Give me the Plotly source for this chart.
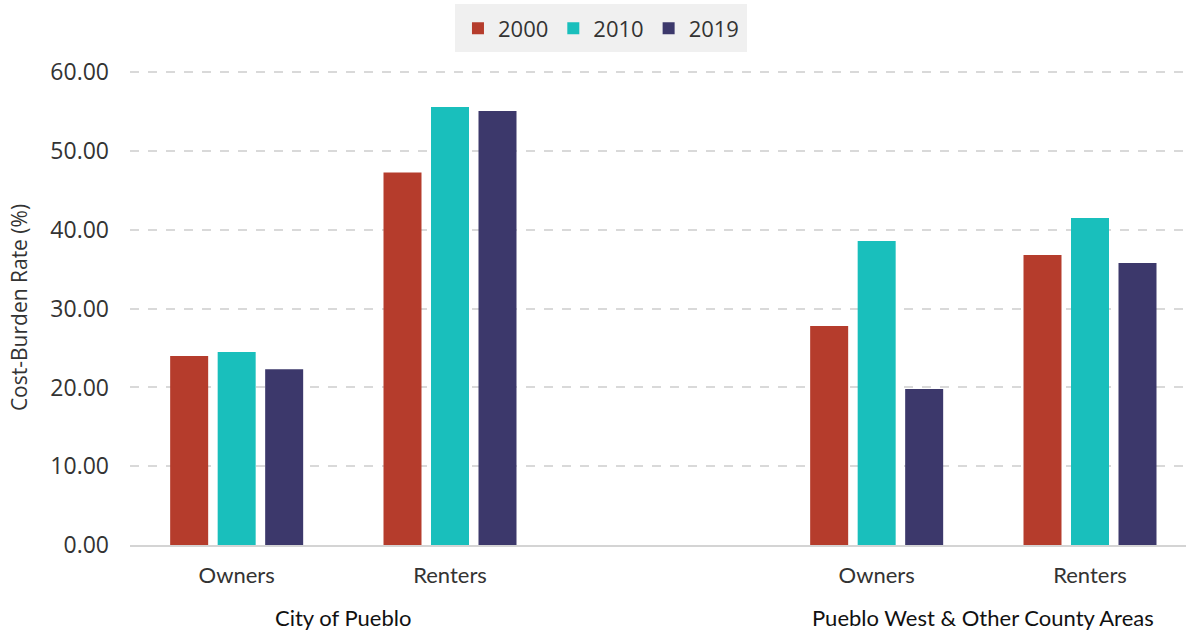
import plotly.graph_objects as go

categories = ["Owners", "Renters", "Owners", "Renters"]
groups = ["City of Pueblo", "Pueblo West & Other County Areas"]
years = ["2000", "2010", "2019"]
values_2000 = [24.0, 47.3, 27.8, 36.8]
values_2010 = [24.5, 55.6, 38.6, 41.5]
values_2019 = [22.3, 55.1, 19.8, 35.8]
colors = ["#b53c2c", "#19bfbc", "#3c386b"]

xpos = [0, 1, 3, 4]
series = [values_2000, values_2010, values_2019]

fig = go.Figure()
for name, vals, c in zip(years, series, colors):
    fig.add_trace(go.Bar(x=xpos, y=vals, name=name, marker=dict(color=c, line=dict(width=0))))

fig.update_layout(
    width=1186, height=636,
    margin=dict(l=130, r=0, t=70, b=91),
    paper_bgcolor="white", plot_bgcolor="white",
    barmode="group", bargap=0.332, bargroupgap=0.2,
    font=dict(family="Open Sans", color="#333333"),
    showlegend=True,
    legend=dict(orientation="h", x=0.446, xanchor="center", y=0.993, yanchor="top",
                yref="container", bgcolor="#f0f0f0", font=dict(size=22, color="#333333"),
                itemwidth=30, traceorder="normal", itemsizing="constant",
                borderwidth=3, bordercolor="#f0f0f0"),
    xaxis=dict(range=[-0.5, 4.45], tickvals=xpos, ticktext=categories, showgrid=False,
               zeroline=False, showline=True, linecolor="#d4d4d4", linewidth=2,
               tickfont=dict(family="Lato", size=22, color="#333333"), ticks="", ticklabelstandoff=10),
    yaxis=dict(range=[0, 60.3], tickvals=[0, 10, 20, 30, 40, 50, 60], tickformat=".2f",
               showgrid=True, gridcolor="#d9d9d9", griddash="dash", gridwidth=2, zeroline=False,
               tickfont=dict(size=23, color="#333333"), ticks="", ticklabelstandoff=20,
               title=dict(text="Cost-Burden Rate (%)", font=dict(size=21, color="#333333"), standoff=16)),
)

for gx, g in zip([0.5, 3.5], groups):
    fig.add_annotation(x=gx, xref="x", y=-0.153, yref="paper", yanchor="middle", text=g,
                       showarrow=False, font=dict(family="Lato", size=22, color="#111111"))

fig.write_html("out.html")
